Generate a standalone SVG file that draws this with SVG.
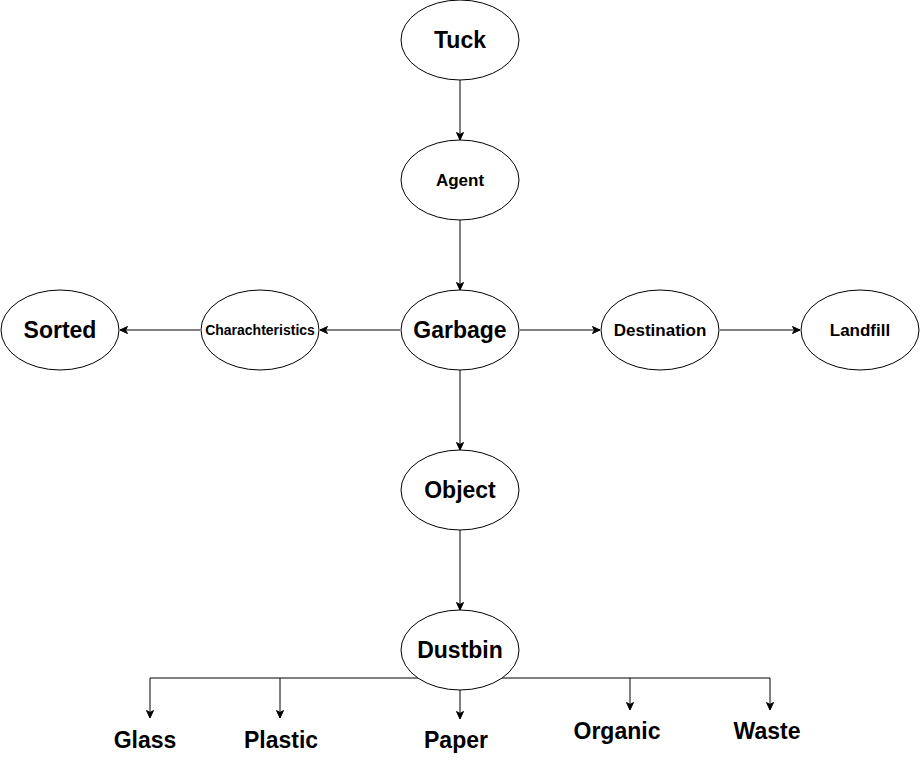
<svg xmlns="http://www.w3.org/2000/svg" width="921" height="770" viewBox="0 0 921 770">
<style>
.n ellipse{fill:#fff;stroke:#000;stroke-width:1}
text{font-family:"Liberation Sans",Arial,sans-serif;font-weight:bold;fill:#000;text-anchor:middle}
.big{font-size:23px}
.mid{font-size:17px}
.sm{font-size:14px}
.e{fill:none;stroke:#000;stroke-width:1;marker-end:url(#arr)}
</style>
<defs>
<marker id="arr" markerUnits="userSpaceOnUse" markerWidth="10" markerHeight="10" refX="8" refY="4" orient="auto">
<path d="M0.5,0.5 L8,4 L0.5,7.5 L2.5,4 z" fill="#000" stroke="#000" stroke-width="1"/>
</marker>
</defs>
<rect width="921" height="770" fill="#fff"/>
<g id="connectors">
<path class="e" d="M460,80 L460,140"/>
<path class="e" d="M460,220 L460,290"/>
<path class="e" d="M460,370 L460,450"/>
<path class="e" d="M460,530 L460,610"/>
<path class="e" d="M400,330 L320,330"/>
<path class="e" d="M200,330 L120,330"/>
<path class="e" d="M520,330 L600,330"/>
<path class="e" d="M720,330 L800,330"/>
<path fill="none" stroke="#000" d="M150,678 L770,678"/>
<path class="e" d="M150,678 L150,718"/>
<path class="e" d="M280,678 L280,718"/>
<path class="e" d="M460,690 L460,719"/>
<path class="e" d="M630,678 L630,710"/>
<path class="e" d="M770,678 L770,710"/>
</g>
<g id="tuck" class="n"><ellipse cx="460" cy="40" rx="59" ry="40"/><text class="big" x="460" y="48">Tuck</text></g>
<g id="agent" class="n"><ellipse cx="460" cy="180" rx="59" ry="40"/><text class="mid" x="460" y="186">Agent</text></g>
<g id="garbage" class="n"><ellipse cx="460" cy="330" rx="59" ry="40"/><text class="big" x="460" y="338">Garbage</text></g>
<g id="charachteristics" class="n"><ellipse cx="260" cy="330" rx="59" ry="40"/><text class="sm" x="260" y="335">Charachteristics</text></g>
<g id="sorted" class="n"><ellipse cx="60" cy="330" rx="59" ry="40"/><text class="big" x="60" y="338">Sorted</text></g>
<g id="destination" class="n"><ellipse cx="660" cy="330" rx="59" ry="40"/><text class="mid" x="660" y="336">Destination</text></g>
<g id="landfill" class="n"><ellipse cx="860" cy="330" rx="59" ry="40"/><text class="mid" x="860" y="336">Landfill</text></g>
<g id="object" class="n"><ellipse cx="460" cy="490" rx="59" ry="40"/><text class="big" x="460" y="498">Object</text></g>
<g id="dustbin" class="n"><ellipse cx="460" cy="650" rx="59" ry="40"/><text class="big" x="460" y="658">Dustbin</text></g>
<g id="glass"><text class="big" x="145" y="748">Glass</text></g>
<g id="plastic"><text class="big" x="281" y="748">Plastic</text></g>
<g id="paper"><text class="big" x="456" y="748">Paper</text></g>
<g id="organic"><text class="big" x="617" y="739">Organic</text></g>
<g id="waste"><text class="big" x="767" y="739">Waste</text></g>
</svg>
